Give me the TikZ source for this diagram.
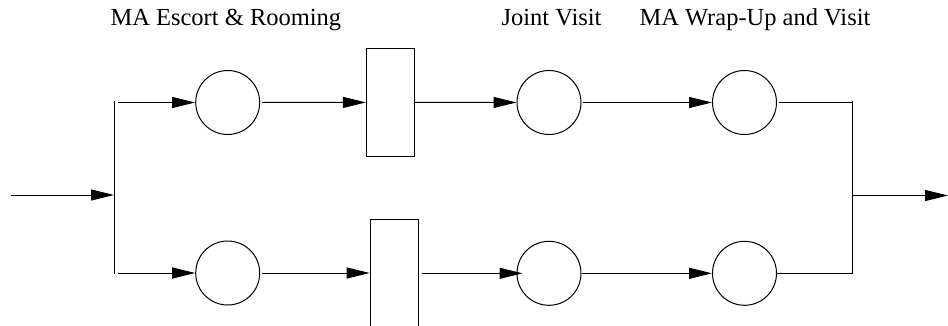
\documentclass[tikz,border=0pt]{standalone}
\usepackage{fontspec}
\setmainfont{Liberation Serif}
\usetikzlibrary{arrows.meta}
\begin{document}
\begin{tikzpicture}[x=1pt,y=-1pt,line width=1pt,
  place/.style={circle,draw,minimum size=64pt,inner sep=0pt},
  trans/.style={rectangle,draw,minimum width=48pt,inner sep=0pt},
  arr/.style={-{Triangle[length=23pt,width=11pt]}},
  lbl/.style={anchor=base west,inner sep=0pt,font=\fontsize{24.5}{29}\selectfont}]
\useasboundingbox (0,0) rectangle (948,326);
\clip (0,0) rectangle (948,326);

% labels
\node[lbl] (t1) at (110,26) {MA Escort \& Rooming};
\node[lbl] (t2) at (501,26) {Joint Visit};
\node[lbl] (t3) at (639,26) {MA Wrap-Up and Visit};

% places and transitions
\node[place] (a1) at (227.7,102.5) {};
\node[trans,minimum height=108pt] (r1) at (390.4,102.4) {};
\node[place] (b1) at (549,102.5) {};
\node[place] (c1) at (744.5,102.5) {};

\node[place] (a2) at (227.7,273) {};
\node[trans,minimum height=110pt] (r2) at (394.2,274) {};
\node[place] (b2) at (549,273.3) {};
\node[place] (c2) at (744.5,273.3) {};

% fork and join bars
\coordinate (in) at (11,195);
\coordinate (lt) at (114,100.7);
\coordinate (lb) at (114,274);
\coordinate (lm) at (114,195);
\coordinate (s1) at (118,102.5);
\coordinate (s2) at (118,273);
\coordinate (rt) at (852.7,100.7);
\coordinate (rb) at (852.7,273.3);
\coordinate (rm) at (852.7,195.5);
\coordinate (out) at (948,195.5);

\draw (lt) -- (lb);
\draw[arr] (in) -- (lm);
\draw (rt) -- (rb);
\draw[arr] (rm) -- (out);

% upper branch
\draw[arr] (s1) -- (a1);
\draw[arr,shorten <=2pt] (a1) -- (r1);
\draw[arr] (r1) -- (b1);
\draw[arr,shorten <=1pt] (b1) -- (c1);
\draw[shorten <=2pt] (c1) -- (c1 -| rt);

% lower branch
\draw[arr] (s2) -- (a2);
\draw[arr,shorten <=2pt] (a2) -- (r2.west |- a2);
\draw[arr,shorten <=3pt,shorten >=-6pt] (r2.east |- b2) -- (b2);
\draw[arr] (b2) -- (c2);
\draw (c2) -- (c2 -| rb);
\end{tikzpicture}
\end{document}
